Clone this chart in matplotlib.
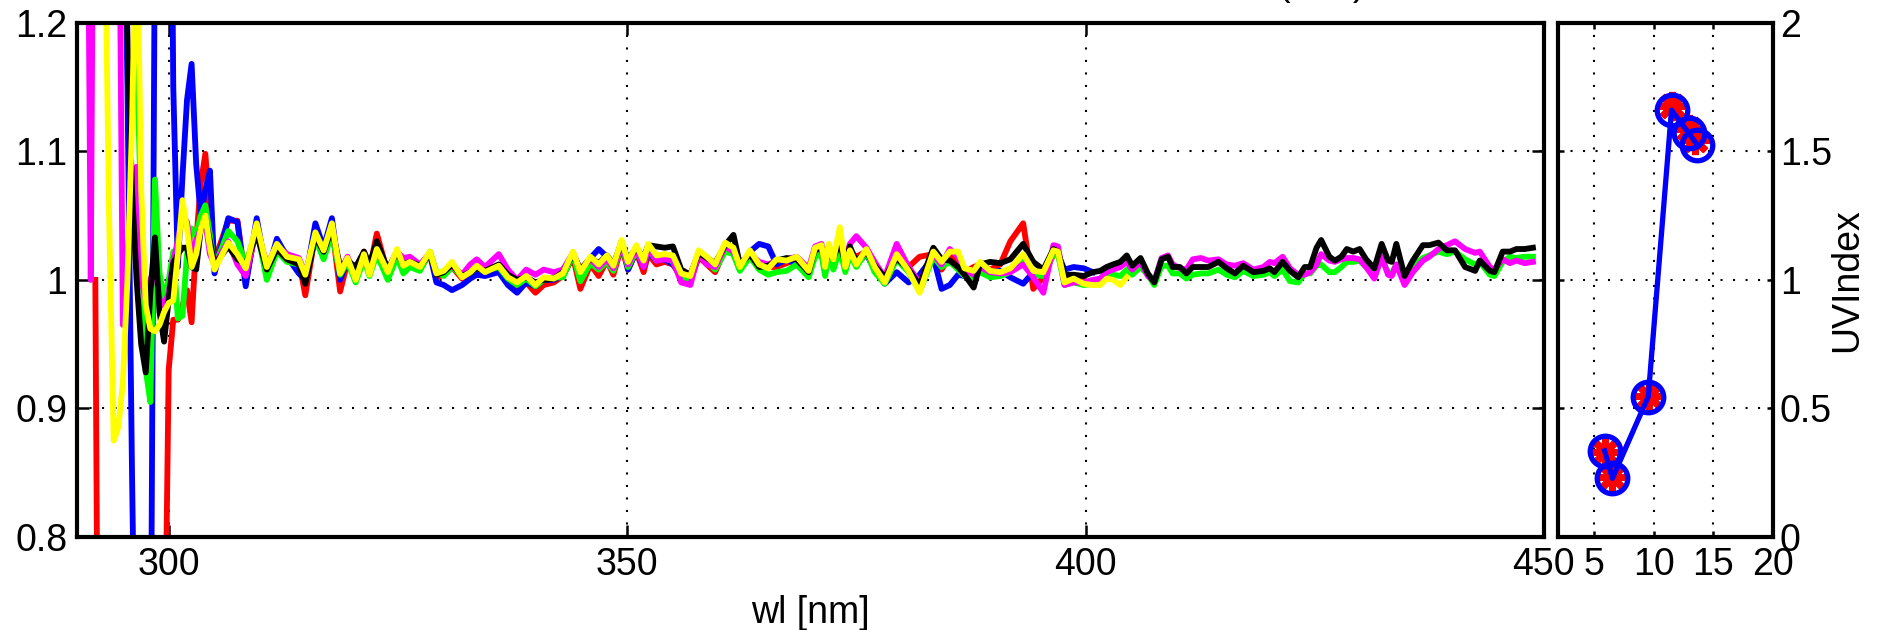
import matplotlib
matplotlib.use('Agg')
import matplotlib.pyplot as plt

plt.rcParams['font.family'] = ['Liberation Sans', 'DejaVu Sans']
plt.rcParams['font.size'] = 27

# wavelength grid [nm] the spectra ratios are read on
wl = [290.0, 290.5, 291.0, 291.5, 292.0, 292.5, 293.0, 293.5, 294.0, 294.5,
      295.0, 295.5, 296.0, 296.5, 297.0, 297.5, 298.0, 298.5, 299.0, 299.5,
      300.0, 300.5, 301.0, 301.5, 302.0, 302.5, 303.0, 303.5, 304.0, 304.5,
      305.0, 306.5, 307.5, 308.4, 309.6, 310.7, 311.8, 312.9, 314.2, 314.9,
      316.0, 316.9, 317.8, 318.7, 319.5, 320.4, 321.3, 321.9, 322.7, 323.9,
      324.9, 325.6, 326.3, 327.4, 328.5, 329.2, 330.0, 330.9, 332.0, 332.9,
      333.6, 334.5, 336.0, 337.0, 338.0, 339.0, 340.0, 340.9, 342.0, 343.0,
      344.1, 344.9, 346.0, 346.9, 347.8, 348.5, 349.4, 350.1, 351.0, 351.8,
      352.3, 353.2, 354.1, 355.0, 355.9, 356.9, 357.8, 358.7, 359.6, 360.7,
      361.6, 362.3, 363.4, 364.4, 365.4, 366.3, 367.4, 368.5, 369.8, 370.5,
      371.2, 371.6, 372.0, 372.5, 373.2, 373.8, 374.3, 375.0, 376.1, 377.0,
      378.1, 379.4, 380.7, 381.9, 383.4, 384.3, 385.2, 386.1, 386.8, 387.8,
      388.5, 389.6, 390.7, 391.8, 393.2, 394.3, 395.4, 396.5, 397.0, 397.7,
      398.7, 399.8, 400.8, 401.6, 402.3, 403.0, 403.8, 404.5, 405.1, 406.0,
      406.8, 407.5, 408.3, 409.0, 409.5, 410.3, 411.0, 411.7, 412.6, 413.4,
      414.5, 415.4, 416.3, 417.2, 418.3, 419.4, 420.1, 420.6, 421.5, 422.3,
      423.2, 423.9, 424.5, 425.2, 425.7, 426.6, 427.2, 427.9, 428.5, 429.2,
      429.9, 430.6, 431.5, 432.3, 433.0, 433.4, 433.9, 434.8, 435.7, 436.8,
      437.5, 438.5, 439.4, 440.3, 441.4, 442.5, 443.0, 444.1, 444.6, 445.5,
      446.3, 447.0, 447.9, 448.8]

nan = float('nan')
ratio_red = [nan, nan, nan, nan, 1.000, 0.40, 0.30, 0.30, 0.35, 0.40,
             0.45, 0.50, 0.50, 0.45, 0.40, 0.40, 0.45, 0.50, 0.55, 0.65,
             0.93, 0.969, 0.969, 0.980, 0.992, 0.967, 1.030, 1.075, 1.098, 1.050,
             1.015, 1.046, 1.046, 0.998, 1.044, 1.006, 1.028, 1.020, 1.015, 0.988,
             1.036, 1.020, 1.042, 0.991, 1.014, 1.002, 1.022, 1.008, 1.036, 1.005,
             1.020, 1.010, 1.012, 1.008, 1.021, 1.002, 1.004, 1.010, 1.001, 1.004,
             1.008, 1.005, 1.009, 1.000, 0.994, 0.998, 0.990, 0.996, 0.998, 1.003,
             1.018, 0.993, 1.012, 1.003, 1.015, 1.004, 1.026, 1.008, 1.022, 1.006,
             1.020, 1.012, 1.014, 1.012, 1.002, 1.000, 1.018, 1.012, 1.006, 1.024,
             1.020, 1.008, 1.022, 1.012, 1.010, 1.010, 1.013, 1.016, 1.008, 1.024,
             1.026, 1.012, 1.026, 1.016, 1.030, 1.012, 1.022, 1.018, 1.022, 1.010,
             1.000, 1.020, 1.010, 1.018, 1.020, 1.008, 1.018, 1.014, 1.006, 1.010,
             1.012, 1.008, 1.012, 1.030, 1.044, 0.993, 1.002, 1.020, 1.020, 1.000,
             1.002, 1.001]

ratio_blue = [1.6, 1.7, 1.8, 1.8, 1.7, 1.6, 1.5, 1.45, 1.4, 1.4,
              1.40, 1.15, 0.85, 0.60, 0.50, 0.50, 0.62, 1.28, 1.60, 1.70,
              1.60, 1.15, 1.010, 1.080, 1.140, 1.168, 1.090, 1.050, 1.070, 1.085,
              1.005, 1.048, 1.045, 0.995, 1.048, 1.004, 1.032, 1.018, 1.005, 1.000,
              1.044, 1.025, 1.048, 1.000, 1.016, 1.004, 1.020, 1.006, 1.028, 1.006,
              1.022, 1.012, 1.012, 1.010, 1.020, 0.998, 0.996, 0.992, 0.996, 1.001,
              1.004, 1.003, 1.006, 0.996, 0.990, 0.998, 0.995, 1.000, 1.000, 1.004,
              1.018, 1.004, 1.017, 1.024, 1.018, 1.010, 1.030, 1.008, 1.022, 1.010,
              1.022, 1.015, 1.016, 1.012, 1.004, 1.000, 1.018, 1.016, 1.010, 1.024,
              1.022, 1.008, 1.022, 1.028, 1.026, 1.012, 1.016, 1.012, 1.004, 1.020,
              1.022, 1.006, 1.022, 1.014, 1.030, 1.008, 1.020, 1.012, 1.020, 1.008,
              0.997, 1.006, 0.998, 1.004, 1.018, 0.993, 0.996, 1.004, 1.003, 1.006,
              1.012, 1.006, 1.007, 1.002, 0.997, 1.006, 1.004, 1.022, 1.020, 1.008,
              1.010, 1.009, 1.006]

ratio_green = [1.5, 1.6, 1.7, 1.8, 1.8, 1.8, 1.7, 1.7, 1.6, 1.6,
               1.55, 1.5, 1.40, 1.18, 1.05, 0.93, 0.905, 1.078, 1.005, 0.985,
               1.000, 1.022, 0.970, 0.972, 1.020, 1.040, 1.035, 1.050, 1.058, 1.035,
               1.010, 1.038, 1.030, 1.012, 1.040, 1.000, 1.022, 1.014, 1.012, 1.002,
               1.032, 1.016, 1.036, 1.004, 1.014, 0.998, 1.016, 1.003, 1.020, 1.000,
               1.018, 1.005, 1.010, 1.007, 1.022, 1.006, 1.003, 1.010, 1.003, 1.006,
               1.009, 1.007, 1.010, 1.001, 0.996, 1.001, 0.995, 1.000, 1.002, 1.002,
               1.020, 0.999, 1.013, 1.008, 1.014, 1.007, 1.028, 1.010, 1.022, 1.012,
               1.024, 1.015, 1.018, 1.014, 1.002, 1.001, 1.020, 1.014, 1.008, 1.022,
               1.020, 1.007, 1.018, 1.008, 1.004, 1.006, 1.007, 1.012, 1.002, 1.018,
               1.020, 1.003, 1.020, 1.008, 1.024, 1.006, 1.020, 1.010, 1.022, 1.006,
               0.997, 1.016, 1.006, 0.991, 1.018, 1.010, 1.014, 1.008, 1.003, 1.002,
               1.006, 1.002, 1.003, 1.006, 1.016, 1.004, 1.003, 1.020, 1.020, 0.996,
               0.998, 0.996, 0.997, 0.998, 1.001, 1.004, 1.003, 1.008, 1.004, 1.010,
               1.004, 0.996, 1.011, 1.011, 1.005, 1.005, 1.001, 1.004, 1.005, 1.005,
               1.008, 1.004, 1.002, 1.007, 1.003, 1.004, 1.006, 1.003, 1.008, 0.999,
               0.998, 1.005, 1.005, 1.011, 1.012, 1.006, 1.006, 1.010, 1.014, 1.014,
               1.015, 1.010, 1.005, 1.016, 1.006, 1.005, 1.012, 0.999, 1.010, 1.017,
               1.019, 1.022, 1.020, 1.022, 1.016, 1.012, 1.014, 1.004, 1.003, 1.014,
               1.018, 1.017, 1.018, 1.018]

ratio_magenta = [1.6, 1.8, 1.5, 1.0, 1.6, 2.0, 2.0, 1.8, 1.6, 1.4,
                 0.965, 1.02, 1.06, 1.088, 1.0, 0.985, 1.0, 1.01, 0.985, 0.98,
                 0.99, 1.015, 1.03, 1.05, 1.045, 1.02, 1.03, 1.04, 1.045, 1.02,
                 1.012, 1.030, 1.012, 1.003, 1.040, 1.012, 1.026, 1.020, 1.017, 1.005,
                 1.034, 1.022, 1.043, 1.006, 1.018, 1.003, 1.019, 1.006, 1.024, 1.008,
                 1.022, 1.017, 1.018, 1.012, 1.021, 1.004, 1.007, 1.011, 1.004, 1.012,
                 1.016, 1.010, 1.020, 1.008, 1.000, 1.008, 1.004, 1.008, 1.006, 1.008,
                 1.021, 1.008, 1.016, 1.010, 1.016, 1.009, 1.028, 1.012, 1.024, 1.010,
                 1.025, 1.015, 1.016, 1.015, 0.998, 0.996, 1.020, 1.012, 1.010, 1.026,
                 1.022, 1.013, 1.020, 1.014, 1.012, 1.015, 1.016, 1.018, 1.009, 1.026,
                 1.028, 1.014, 1.026, 1.018, 1.032, 1.015, 1.028, 1.034, 1.025, 1.014,
                 1.002, 1.028, 1.010, 0.998, 1.020, 1.012, 1.024, 1.018, 1.008, 1.004,
                 1.010, 1.006, 1.005, 1.006, 1.012, 1.002, 0.990, 1.027, 1.026, 0.996,
                 0.998, 0.998, 1.000, 1.001, 1.006, 1.008, 1.010, 1.014, 1.008, 1.014,
                 1.003, 0.999, 1.017, 1.019, 1.012, 1.009, 1.008, 1.016, 1.017, 1.015,
                 1.016, 1.012, 1.011, 1.013, 1.008, 1.010, 1.014, 1.013, 1.018, 1.009,
                 1.004, 1.004, 1.006, 1.012, 1.020, 1.015, 1.014, 1.016, 1.017, 1.017,
                 1.016, 1.010, 1.001, 1.018, 1.004, 1.003, 1.012, 0.996, 1.006, 1.015,
                 1.018, 1.024, 1.027, 1.030, 1.024, 1.021, 1.022, 1.010, 1.008, 1.016,
                 1.013, 1.015, 1.013, 1.014]

ratio_black = [1.5, 1.6, 1.7, 1.8, 1.8, 1.7, 1.6, 1.55, 1.5, 1.45,
               1.35, 1.19, 1.07, 1.00, 0.95, 0.928, 0.99, 1.033, 0.975, 0.952,
               0.985, 1.013, 1.020, 1.025, 1.025, 1.010, 1.008, 1.040, 1.048, 1.030,
               1.012, 1.026, 1.016, 1.012, 1.036, 1.008, 1.024, 1.016, 1.012, 0.997,
               1.034, 1.022, 1.040, 1.010, 1.015, 1.010, 1.022, 1.012, 1.030, 1.008,
               1.022, 1.012, 1.014, 1.011, 1.020, 1.004, 1.006, 1.012, 1.003, 1.006,
               1.009, 1.007, 1.012, 1.004, 1.000, 1.002, 0.998, 1.000, 1.001, 1.006,
               1.020, 1.008, 1.017, 1.013, 1.019, 1.012, 1.029, 1.016, 1.025, 1.017,
               1.027, 1.026, 1.025, 1.026, 1.008, 1.004, 1.021, 1.017, 1.013, 1.027,
               1.035, 1.012, 1.020, 1.010, 1.011, 1.015, 1.017, 1.016, 1.006, 1.024,
               1.025, 1.012, 1.024, 1.017, 1.030, 1.012, 1.026, 1.014, 1.022, 1.011,
               1.002, 1.017, 1.008, 0.996, 1.025, 1.016, 1.015, 1.010, 1.004, 0.994,
               1.012, 1.014, 1.013, 1.016, 1.028, 1.014, 1.008, 1.024, 1.022, 1.004,
               1.004, 1.003, 1.006, 1.007, 1.010, 1.012, 1.014, 1.019, 1.011, 1.017,
               1.005, 0.998, 1.016, 1.018, 1.010, 1.010, 1.005, 1.010, 1.010, 1.010,
               1.014, 1.009, 1.005, 1.011, 1.006, 1.007, 1.009, 1.006, 1.014, 1.007,
               1.002, 1.010, 1.010, 1.025, 1.031, 1.018, 1.015, 1.018, 1.024, 1.022,
               1.024, 1.016, 1.009, 1.028, 1.015, 1.014, 1.028, 1.003, 1.015, 1.027,
               1.027, 1.029, 1.023, 1.023, 1.010, 1.007, 1.015, 1.007, 1.006, 1.022,
               1.022, 1.024, 1.024, 1.025]

ratio_yellow = [1.80, 1.90, 2.00, 2.00, 1.90, 1.60, 1.30, 1.05, 0.875, 0.885,
                0.92, 1.00, 1.12, 1.30, 1.07, 0.98, 0.962, 0.960, 0.965, 0.975,
                0.982, 0.984, 1.020, 1.062, 1.040, 1.010, 1.020, 1.040, 1.050, 1.025,
                1.008, 1.029, 1.020, 1.009, 1.044, 1.010, 1.028, 1.018, 1.016, 1.004,
                1.037, 1.023, 1.044, 1.005, 1.017, 1.000, 1.020, 1.004, 1.024, 1.006,
                1.024, 1.011, 1.014, 1.010, 1.022, 1.005, 1.007, 1.014, 1.002, 1.006,
                1.011, 1.006, 1.011, 1.002, 0.998, 1.003, 0.996, 1.002, 1.001, 1.005,
                1.022, 1.006, 1.018, 1.012, 1.019, 1.011, 1.031, 1.014, 1.027, 1.015,
                1.028, 1.019, 1.020, 1.019, 1.005, 1.003, 1.023, 1.018, 1.012, 1.029,
                1.025, 1.010, 1.023, 1.012, 1.009, 1.016, 1.015, 1.018, 1.007, 1.025,
                1.027, 1.010, 1.028, 1.016, 1.041, 1.010, 1.023, 1.012, 1.024, 1.010,
                0.998, 1.020, 1.007, 0.990, 1.022, 1.014, 1.022, 1.022, 1.009, 1.007,
                1.014, 1.007, 1.006, 1.009, 1.020, 1.007, 1.006, 1.023, 1.022, 0.998,
                1.001, 0.997, 0.996, 0.996, 1.001, 1.000, 0.996, 1.002]

# right panel: UV index against time of day
hour_red = [5.95, 6.5, 9.6, 11.5, 12.95, 13.5]
uvi_red = [0.33, 0.235, 0.55, 1.675, 1.585, 1.545]
hour_blue = [5.9, 6.55, 9.55, 11.5, 12.95, 13.65]
uvi_blue = [0.335, 0.228, 0.546, 1.66, 1.57, 1.525]

wl_ticks = [300, 350, 400, 450]
ratio_ticks = [0.8, 0.9, 1.0, 1.1, 1.2]
ratio_ticklabels = ['0.8', '0.9', '1', '1.1', '1.2']
hour_ticks = [5, 10, 15, 20]
uvi_ticks = [0, 0.5, 1, 1.5, 2]
uvi_ticklabels = ['0', '0.5', '1', '1.5', '2']

fig = plt.figure(figsize=(18.79, 6.30), dpi=100)
ax = fig.add_axes([0.04098, 0.1476, 0.7807, 0.8163])
ax2 = fig.add_axes([0.8292, 0.1476, 0.1144, 0.8163])

series = [(ratio_red, '#ff0000'), (ratio_blue, '#0000ff'), (ratio_green, '#00ff00'),
          (ratio_magenta, '#ff00ff'), (ratio_black, '#000000'), (ratio_yellow, '#ffff00')]
for vals, col in series:
    ax.plot(wl[:len(vals)], vals, color=col, lw=4.2)

ax.set_xlim(290, 450)
ax.set_ylim(0.8, 1.2)
ax.set_xticks(wl_ticks)
ax.set_yticks(ratio_ticks, ratio_ticklabels)
ax.set_xlabel('wl [nm]', labelpad=9)

ax2.plot(hour_red, uvi_red, color='#ff0000', lw=2.5, marker=(8, 2, 0),
         markersize=21, markeredgewidth=5)
ax2.plot(hour_blue, uvi_blue, color='#0000ff', lw=3.8, marker='o',
         markersize=22, markerfacecolor='none', markeredgewidth=3.8)
ax2.set_xlim(2, 20)
ax2.set_ylim(0, 2)
ax2.set_xticks(hour_ticks)
ax2.set_yticks(uvi_ticks, uvi_ticklabels)
ax2.yaxis.tick_right()
ax2.yaxis.set_label_position('right')
ax2.set_ylabel('UVIndex', labelpad=-2)

for a, tl in [(ax, 8.6), (ax2, 4.5)]:
    a.grid(True, color='k', linestyle=(0, (1, 5)), linewidth=1.5)
    a.tick_params(direction='in', length=tl, width=1.8, top=True, bottom=True,
                  left=True, right=True, pad=7)
    for s in a.spines.values():
        s.set_linewidth(3.0)
ax2.tick_params(axis='y', pad=5)

# title is cut off at the top edge of the figure, only the parentheses' feet show
fig.text(0.7033, 1 + 5 / 630, '(      )', ha='center', va='baseline', fontsize=27)

fig.savefig('out.png', dpi=100)
